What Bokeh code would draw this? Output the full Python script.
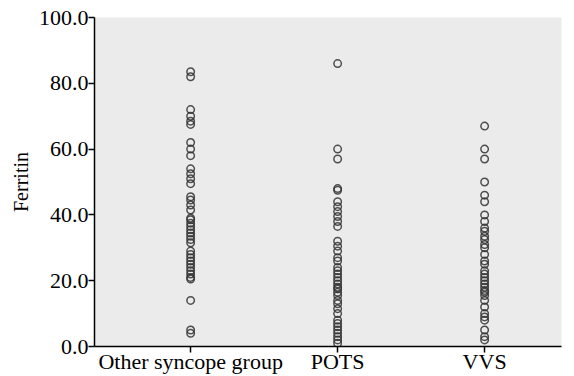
from bokeh.plotting import figure
from bokeh.models import ColumnDataSource, FixedTicker, Range1d, CustomJSTickFormatter
from bokeh.embed import file_html
from bokeh.resources import INLINE

categories = ["Other syncope group", "POTS", "VVS"]

other_syncope = [83.5, 82, 72, 70, 68.5, 67.5, 62, 60, 58, 54, 52.5, 51, 49.5,
                 45.5, 44.5, 43, 41.5, 39, 38.5, 37.5, 36.5, 35.5, 34.5, 33.5,
                 32.5, 31.5, 29, 28, 27, 26, 25, 24, 23, 22, 21, 20.5, 14, 5, 4]
pots = [86, 60, 57, 48, 47.5, 44, 42.5, 41, 39.5, 38, 36.5, 32, 30.5, 29, 27, 26,
        24, 23, 22, 21, 20, 19, 18, 17.5, 16.5, 15.5, 14, 13, 11.5, 10, 8, 7, 6,
        5, 4, 3, 2, 1]
vvs = [67, 60, 57, 50, 46, 44, 40, 38, 36, 35, 33.5, 32.5, 31, 30, 28, 26, 25, 23,
       22, 21, 20, 19, 18, 17, 16.5, 15.5, 14, 12, 10, 9, 8, 5, 3, 2]

y_ticks = [0, 20, 40, 60, 80, 100]

series = [other_syncope, pots, vvs]
xs, ys = [], []
for i, vals in enumerate(series):
    for v in vals:
        xs.append(i + 1)
        ys.append(v)
src = ColumnDataSource(dict(x=xs, y=ys))

p = figure(width=574, height=376, output_backend="svg", toolbar_location=None,
           x_range=Range1d(0.346, 3.523), y_range=Range1d(0, 100),
           min_border_left=94, min_border_right=13, min_border_top=17, min_border_bottom=27)

p.background_fill_color = "#ebebeb"
p.border_fill_color = "white"
p.outline_line_color = None
p.xgrid.visible = False
p.ygrid.visible = False

p.scatter("x", "y", source=src, size=7.5, marker="circle", fill_color=None,
          line_color="#333333", line_width=1.5, line_alpha=0.85)

font = "Liberation Serif"
for ax in (p.xaxis[0], p.yaxis[0]):
    ax.axis_line_color = "black"
    ax.axis_line_width = 1.5
    ax.major_tick_line_color = "black"
    ax.major_tick_line_width = 1.5
    ax.major_tick_in = 0
    ax.major_tick_out = 6
    ax.minor_tick_line_color = None
    ax.major_label_text_font = font
    ax.major_label_text_font_size = "22px"
    ax.major_label_text_color = "black"

p.xaxis.ticker = FixedTicker(ticks=[1, 2, 3])
p.xaxis.major_label_overrides = {i + 1: c for i, c in enumerate(categories)}
p.xaxis.major_label_standoff = -4
p.yaxis.ticker = FixedTicker(ticks=y_ticks)
p.yaxis.formatter = CustomJSTickFormatter(code="return tick.toFixed(1);")
p.yaxis.major_label_standoff = 0
p.yaxis.axis_label = "Ferritin"
p.yaxis.axis_label_text_font = font
p.yaxis.axis_label_text_font_size = "20px"
p.yaxis.axis_label_text_font_style = "normal"
p.yaxis.axis_label_text_color = "black"
p.yaxis.axis_label_standoff = 4

open("out.html", "w").write(file_html(p, INLINE))
